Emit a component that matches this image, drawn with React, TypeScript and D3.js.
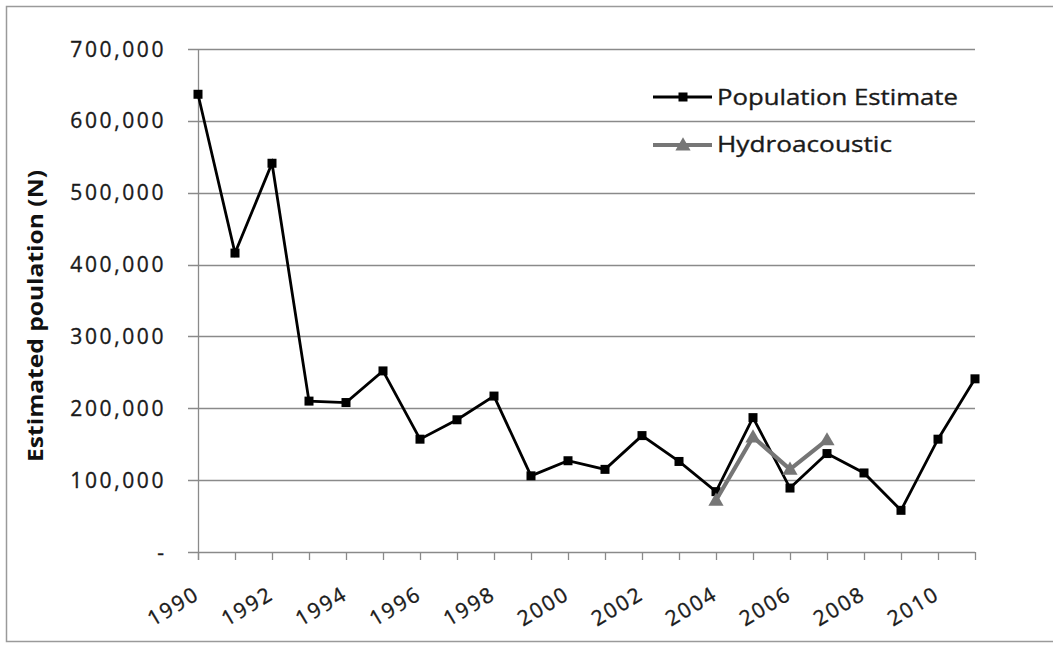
import React from "react";
import * as d3 from "d3";

const years = [1990, 1991, 1992, 1993, 1994, 1995, 1996, 1997, 1998, 1999, 2000, 2001, 2002, 2003, 2004, 2005, 2006, 2007, 2008, 2009, 2010, 2011];
const populationEstimate = [637000, 416000, 541000, 210000, 208000, 252000, 157000, 184000, 217000, 106000, 127000, 115000, 162000, 126000, 84000, 187000, 89000, 137000, 110000, 58000, 157000, 241000];
const hydroYears = [2004, 2005, 2006, 2007];
const hydroacoustic = [72000, 160000, 115000, 156000];
const yTicks = [0, 100000, 200000, 300000, 400000, 500000, 600000, 700000];
const xLabelYears = [1990, 1992, 1994, 1996, 1998, 2000, 2002, 2004, 2006, 2008, 2010];
const seriesNames = ["Population Estimate", "Hydroacoustic"];
const yTitle = "Estimated poulation (N)";

const W = 1053, H = 648;
const left = 198, right = 975, top = 49, bottom = 552;
const FONT = "'Open Sans', 'Liberation Sans', sans-serif";
const AXIS = "#8a8a8a";
const HYDRO = "#767676";
const TXT = "#1a1a1a";

export default function App() {
  const x = d3.scalePoint<number>().domain(years).range([left, right]);
  const y = d3.scaleLinear().domain([0, 700000]).range([bottom, top]);
  const popData = years.map((yr, i) => ({ yr, v: populationEstimate[i] }));
  const hyData = hydroYears.map((yr, i) => ({ yr, v: hydroacoustic[i] }));
  const line = d3.line<{ yr: number; v: number }>().x(d => x(d.yr)!).y(d => y(d.v));
  const fmt = (v: number) => (v === 0 ? "-" : d3.format(",")(v));
  const tri = d3.symbol().type(d3.symbolTriangle).size(100)();

  return (
    <svg width={W} height={H} style={{ position: "absolute", left: 0, top: 0, background: "#fff" }}>
      <rect x={6.5} y={6.5} width={1060} height={635} fill="#fff" stroke="#9a9a9a" strokeWidth={1.5} />
      {/* gridlines */}
      {yTicks.map(t => (
        <line key={t} x1={188} x2={right} y1={Math.round(y(t)) + 0.5} y2={Math.round(y(t)) + 0.5} stroke={AXIS} strokeWidth={1.3} />
      ))}
      {/* y axis */}
      <line x1={left + 0.5} x2={left + 0.5} y1={top} y2={bottom + 8} stroke={AXIS} strokeWidth={1.3} />
      {/* x ticks */}
      {years.map(yr => (
        <line key={yr} x1={Math.round(x(yr)!) + 0.5} x2={Math.round(x(yr)!) + 0.5} y1={bottom} y2={bottom + 8} stroke={AXIS} strokeWidth={1.3} />
      ))}
      {/* y labels */}
      {yTicks.map(t => (
        <text key={t} x={t === 0 ? 164 : 166} y={y(t)} dy="0.36em" textAnchor="end" fontFamily={FONT} fontSize={21}
          letterSpacing={t === 0 ? 0 : 2.6} fill={TXT} stroke={TXT} strokeWidth={0.35}>{fmt(t)}</text>
      ))}
      {/* x labels */}
      {xLabelYears.map(yr => (
        <text key={yr} transform={`translate(${x(yr)! + 3},${598}) rotate(-31)`} textAnchor="end" fontFamily={FONT}
          fontSize={21} letterSpacing={2} fill={TXT} stroke={TXT} strokeWidth={0.35}>{yr}</text>
      ))}
      {/* y title */}
      <text transform={`translate(43,316) rotate(-90)`} textAnchor="middle" fontFamily={FONT} fontWeight="bold"
        fontSize={21} textLength={292} lengthAdjust="spacingAndGlyphs" fill="#111">{yTitle}</text>
      {/* population series */}
      <path d={line(popData)!} fill="none" stroke="#000" strokeWidth={2.8} strokeLinejoin="miter" />
      {popData.map(d => (
        <rect key={d.yr} x={x(d.yr)! - 4.5} y={y(d.v) - 4.5} width={9} height={9} fill="#000" />
      ))}
      {/* hydro series */}
      <path d={line(hyData)!} fill="none" stroke={HYDRO} strokeWidth={4.2} />
      {hyData.map(d => (
        <path key={d.yr} d={tri!} transform={`translate(${x(d.yr)},${y(d.v) + 1})`} fill={HYDRO} />
      ))}
      {/* legend */}
      <line x1={653} x2={712} y1={97} y2={97} stroke="#000" strokeWidth={2.8} />
      <rect x={678.5} y={92.5} width={9} height={9} fill="#000" />
      <text x={717} y={97} dy="0.36em" fontFamily={FONT} fontSize={22} textLength={241} lengthAdjust="spacingAndGlyphs"
        fill={TXT} stroke={TXT} strokeWidth={0.35}>{seriesNames[0]}</text>
      <line x1={653} x2={712} y1={145} y2={145} stroke={HYDRO} strokeWidth={4.2} />
      <path d={tri!} transform={`translate(683,146)`} fill={HYDRO} />
      <text x={717} y={144} dy="0.36em" fontFamily={FONT} fontSize={22} textLength={175} lengthAdjust="spacingAndGlyphs"
        fill={TXT} stroke={TXT} strokeWidth={0.35}>{seriesNames[1]}</text>
    </svg>
  );
}
